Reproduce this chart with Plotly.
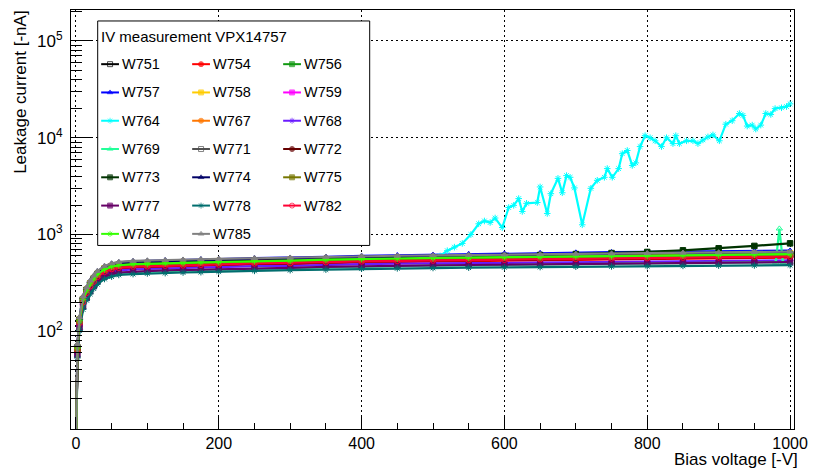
import plotly.graph_objects as go

# Bias voltage steps [-V] shared by the regular sensor scans
VOLTAGE = [0, 2, 5, 10, 15, 20, 25, 30, 40, 50, 60, 80, 100, 125, 150, 175, 200,
           250, 300, 350, 400, 450, 500, 550, 600, 650, 700, 750, 800, 850, 900, 950, 1000]

# Leakage current [-nA] per sensor at the VOLTAGE steps
W751 = [3, 66, 130, 209, 263, 303, 346, 381, 435, 459, 478, 487, 495, 499, 506, 510, 517,
        526, 534, 543, 556, 560, 567, 571, 578, 582, 589, 593, 600, 606, 610, 617, 623]
W754 = [3, 62, 117, 197, 241, 284, 318, 356, 401, 428, 442, 454, 457, 465, 468, 475, 478,
        490, 493, 506, 514, 521, 524, 531, 535, 542, 545, 552, 555, 562, 566, 573, 576]
W756 = [3, 65, 126, 206, 257, 299, 339, 375, 426, 451, 470, 479, 486, 490, 497, 500, 508,
        517, 524, 533, 546, 549, 557, 560, 568, 571, 579, 582, 590, 593, 601, 604, 611]
W757 = [4, 73, 137, 229, 281, 331, 371, 415, 467, 499, 515, 529, 533, 541, 545, 553, 557,
        571, 575, 589, 601, 610, 618, 627, 635, 642, 650, 656, 662, 667, 672, 676, 680]
W758 = [3, 68, 132, 216, 269, 313, 354, 392, 446, 472, 491, 501, 508, 512, 520, 523, 531,
        541, 548, 558, 571, 575, 582, 586, 594, 598, 605, 609, 617, 620, 628, 632, 639]
W759 = [3, 64, 122, 204, 250, 295, 331, 370, 416, 445, 459, 472, 475, 483, 486, 493, 497,
        509, 513, 525, 534, 541, 545, 552, 555, 563, 566, 573, 577, 584, 588, 595, 598]
W767 = [3, 69, 133, 218, 271, 315, 358, 396, 450, 476, 496, 505, 513, 517, 524, 528, 536,
        545, 553, 563, 576, 580, 588, 591, 599, 603, 611, 614, 622, 626, 634, 637, 645]
W768 = [3, 60, 113, 189, 232, 273, 306, 343, 385, 412, 425, 437, 440, 447, 449, 456, 459,
        471, 474, 486, 494, 499, 503, 507, 511, 514, 518, 521, 525, 528, 532, 535, 539]
W771 = [3, 67, 129, 211, 263, 306, 347, 384, 436, 462, 481, 490, 498, 501, 509, 512, 520,
        529, 537, 546, 559, 563, 570, 574, 581, 585, 592, 596, 604, 607, 615, 618, 626]
W772 = [3, 63, 120, 201, 246, 290, 325, 363, 409, 437, 451, 463, 466, 474, 477, 484, 487,
        500, 503, 516, 524, 531, 535, 542, 545, 552, 556, 563, 566, 573, 577, 584, 587]
W773 = [3, 68, 131, 214, 267, 310, 351, 389, 442, 468, 487, 496, 504, 508, 515, 519, 526,
        536, 543, 553, 566, 570, 577, 583, 600, 614, 628, 643, 660, 686, 720, 762, 810]
W774 = [4, 71, 135, 225, 276, 326, 365, 408, 459, 491, 506, 520, 524, 532, 536, 544, 548,
        562, 565, 579, 589, 597, 601, 609, 613, 621, 624, 632, 636, 644, 648, 656, 660]
W775 = [3, 65, 127, 210, 257, 304, 340, 381, 428, 458, 472, 485, 488, 496, 499, 507, 510,
        524, 527, 540, 549, 556, 560, 567, 571, 578, 582, 589, 593, 600, 604, 611, 615]
W777 = [3, 57, 108, 180, 221, 260, 292, 327, 367, 392, 404, 415, 419, 425, 428, 434, 437,
        448, 452, 462, 470, 475, 479, 484, 488, 492, 496, 500, 504, 508, 512, 515, 519]
W778 = [3, 53, 102, 168, 209, 243, 276, 306, 347, 367, 382, 390, 396, 399, 405, 408, 414,
        421, 428, 434, 443, 447, 451, 454, 458, 461, 465, 468, 471, 474, 477, 479, 482]
W782 = [3, 64, 122, 200, 249, 291, 326, 365, 411, 439, 453, 466, 469, 476, 479, 487, 490,
        503, 506, 518, 527, 534, 538, 545, 548, 555, 559, 566, 569, 577, 580, 587, 590]
W784 = [3, 67, 128, 214, 262, 309, 346, 387, 436, 466, 481, 494, 497, 505, 509, 516, 520,
        533, 537, 550, 561, 565, 572, 576, 583, 587, 595, 598, 606, 609, 617, 621, 628]
W785 = [4, 74, 140, 230, 285, 334, 377, 419, 473, 503, 521, 533, 539, 544, 549, 555, 560,
        570, 576, 587, 598, 603, 609, 614, 620, 625, 631, 636, 642, 647, 653, 658, 664]

# W764: regular up to 500 V, then breakdown-like growth measured in finer steps
W764_V = [0, 2, 5, 10, 15, 20, 25, 30, 40, 50, 60, 80, 100, 125, 150, 175, 200,
          250, 300, 350, 400, 450, 500,
          510, 520, 530, 541, 553, 564, 572, 580, 587, 597,
          606, 613, 620, 625, 631, 646, 650, 660, 665, 675,
          681, 687, 692, 698, 709, 721, 730, 740, 744, 751,
          760, 765, 772, 779, 784, 790, 797, 804, 811, 820,
          827, 836, 840, 845, 855, 864, 871, 878, 885, 892,
          901, 910, 919, 929, 934, 940, 947, 952, 959, 966,
          973, 979, 988, 995, 1000]
W764 = [3, 66, 127, 208, 259, 302, 342, 379, 430, 456, 474, 483, 490, 494, 501, 505, 512,
        522, 529, 538, 551, 556, 562,
        600, 680, 740, 808, 1000, 1290, 1380, 1330, 1480, 1180,
        1900, 2000, 2350, 1730, 2100, 2140, 3100, 1650, 2640, 3800,
        2700, 4060, 3900, 3030, 1260, 3000, 3630, 3900, 4800, 3900,
        4800, 6840, 7380, 5170, 5500, 8100, 10500, 10000, 9300, 8100,
        10000, 8700, 10500, 8700, 9300, 9300, 8700, 9500, 10200, 10700,
        9300, 13800, 15000, 17800, 17000, 13200, 13500, 12300, 13500, 17800,
        17400, 20000, 20400, 21000, 22400]

# W769: regular scan with a single spike just below 1000 V
W769_V = [0, 2, 5, 10, 15, 20, 25, 30, 40, 50, 60, 80, 100, 125, 150, 175, 200,
          250, 300, 350, 400, 450, 500, 550, 600, 650, 700, 750, 800, 850, 900, 950,
          980, 985, 990, 1000]
W769 = [3, 56, 108, 177, 220, 255, 289, 320, 364, 386, 401, 409, 415, 418, 424, 428, 434,
        441, 448, 455, 466, 469, 476, 478, 485, 488, 494, 497, 503, 506, 512, 515,
        515, 1150, 517, 520]

SENSORS = ["W751", "W754", "W756", "W757", "W758", "W759", "W764", "W767", "W768", "W769",
           "W771", "W772", "W773", "W774", "W775", "W777", "W778", "W782", "W784", "W785"]
CURRENTS = [W751, W754, W756, W757, W758, W759, W764, W767, W768, W769,
            W771, W772, W773, W774, W775, W777, W778, W782, W784, W785]
VOLTAGES = [VOLTAGE] * 6 + [W764_V] + [VOLTAGE] * 2 + [W769_V] + [VOLTAGE] * 10
COLORS = ["#000000", "#ff0000", "#119911", "#0000ff", "#ffcc00", "#ff00ff", "#00ffff",
          "#ff7700", "#6a1aff", "#22ff99", "#505050", "#660000", "#003300", "#000066",
          "#777700", "#660066", "#006e6e", "#ff0033", "#33ff00", "#808080"]
SYMBOLS = ["square-open", "circle", "square", "triangle-up", "square", "square",
           "asterisk-open", "circle", "asterisk-open", "triangle-up-open", "square-open",
           "circle", "square", "triangle-up", "square", "square", "asterisk-open",
           "circle-open", "asterisk-open", "triangle-up"]

FONT = "Liberation Sans, Arial, Helvetica, sans-serif"

# Plot-area pixel geometry, used for the legend overlay coordinates
PX_L, PX_R, PX_T, PX_B = 71, 802, 9, 429

fig = go.Figure()

for name, volts, cur, col, sym in zip(SENSORS, VOLTAGES, CURRENTS, COLORS, SYMBOLS):
    fig.add_trace(go.Scatter(
        x=volts, y=cur, name=name, mode="lines+markers",
        line=dict(color=col, width=2.2),
        marker=dict(symbol=sym, size=5.5, color=col, line=dict(color=col, width=1)),
        showlegend=False, hoverinfo="x+y+name",
    ))

# Legend box drawn on a pixel-scaled overlay axis pair
BOX = dict(x0=98, x1=373, y0=20, y1=245)
fig.add_trace(go.Scatter(
    x=[BOX["x0"], BOX["x1"], BOX["x1"], BOX["x0"], BOX["x0"]],
    y=[BOX["y0"], BOX["y0"], BOX["y1"], BOX["y1"], BOX["y0"]],
    xaxis="x2", yaxis="y2", mode="lines", fill="toself", fillcolor="white",
    line=dict(color="black", width=1), showlegend=False, hoverinfo="skip",
))

annotations = [
    dict(text="IV measurement VPX14757", xref="x2", yref="y2", x=99, y=36,
         xanchor="left", yanchor="middle", showarrow=False,
         font=dict(family=FONT, size=15, color="black")),
]
for i, (name, col, sym) in enumerate(zip(SENSORS, COLORS, SYMBOLS)):
    row, c = divmod(i, 3)
    yc = 63.3 + 28.35 * row
    xs = 101.5 + 92 * c
    fig.add_trace(go.Scatter(
        x=[xs, xs + 9, xs + 18], y=[yc, yc, yc], xaxis="x2", yaxis="y2",
        mode="lines+markers", line=dict(color=col, width=2),
        marker=dict(symbol=sym, size=[0, 5, 0], color=col, line=dict(color=col, width=1)),
        showlegend=False, hoverinfo="skip",
    ))
    annotations.append(dict(text=name, xref="x2", yref="y2", x=xs + 19.5, y=yc,
                            xanchor="left", yanchor="middle", showarrow=False,
                            font=dict(family=FONT, size=14.5, color="black")))

annotations += [
    dict(text="Bias voltage [-V]", xref="paper", yref="paper", x=1.0,
         y=(PX_B - 460) / (PX_B - PX_T), xshift=6,
         xanchor="right", yanchor="middle", showarrow=False,
         font=dict(family=FONT, size=17, color="black")),
    dict(text="Leakage current [-nA]", xref="paper", yref="paper", textangle=-90,
         x=(20 - PX_L) / (PX_R - PX_L), y=(PX_B - 91.5) / (PX_B - PX_T),
         xanchor="center", yanchor="middle", showarrow=False,
         font=dict(family=FONT, size=17, color="black")),
]

Y_MAJOR = [100, 1000, 10000, 100000]
Y_LABELS = ["10<sup>2</sup>", "10<sup>3</sup>", "10<sup>4</sup>", "10<sup>5</sup>"]
Y_MINOR = [k * d for d in [10, 100, 1000, 10000, 100000] for k in range(2, 10) if k * d < 2.1e5]
X_MAJOR = [0, 200, 400, 600, 800, 1000]
X_MINOR = [v for v in range(50, 1001, 50) if v % 200]

GRID_DASH = "2px,3px"

fig.update_layout(
    width=817, height=468,
    margin=dict(l=PX_L, r=817 - PX_R, t=PX_T, b=468 - PX_B),
    paper_bgcolor="white", plot_bgcolor="white",
    font=dict(family=FONT, color="black"),
    showlegend=False,
    annotations=annotations,
    xaxis=dict(
        range=[-6.9, 1005.5], tickmode="array", tickvals=X_MAJOR,
        ticks="inside", ticklen=12, tickcolor="black", tickwidth=1,
        showline=True, mirror=True, linecolor="black", linewidth=1,
        showgrid=True, gridcolor="black", griddash=GRID_DASH, gridwidth=1,
        zeroline=False, tickfont=dict(family=FONT, size=16, color="black"),
        minor=dict(tickmode="array", tickvals=X_MINOR, ticks="inside", ticklen=6,
                   tickcolor="black", showgrid=False),
    ),
    yaxis=dict(
        type="log", range=[0.99, 5.32], tickmode="array", tickvals=Y_MAJOR, ticktext=Y_LABELS,
        ticks="inside", ticklen=22, tickcolor="black", tickwidth=1,
        showline=True, mirror=True, linecolor="black", linewidth=1,
        showgrid=True, gridcolor="black", griddash=GRID_DASH, gridwidth=1,
        zeroline=False, tickfont=dict(family=FONT, size=17, color="black"),
        ticklabelstandoff=4,
        minor=dict(tickmode="array", tickvals=Y_MINOR, ticks="inside", ticklen=11,
                   tickcolor="black", showgrid=False),
    ),
    xaxis2=dict(range=[PX_L, PX_R], overlaying="x", anchor="y2", visible=False, fixedrange=True),
    yaxis2=dict(range=[PX_B, PX_T], overlaying="y", anchor="x2", visible=False, fixedrange=True),
)

fig.write_html("out.html")
